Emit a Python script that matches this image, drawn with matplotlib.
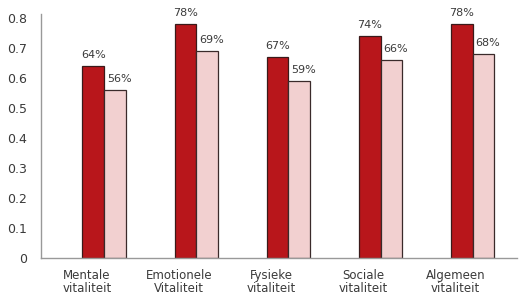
import matplotlib
matplotlib.use("Agg")
import matplotlib.pyplot as plt
import numpy as np

categories = ["Mentale\nvitaliteit", "Emotionele\nVitaliteit", "Fysieke\nvitaliteit", "Sociale\nvitaliteit", "Algemeen\nvitaliteit"]
series_a = [0.64, 0.78, 0.67, 0.74, 0.78]
series_b = [0.56, 0.69, 0.59, 0.66, 0.68]
labels_a = ["64%", "78%", "67%", "74%", "78%"]
labels_b = ["56%", "69%", "59%", "66%", "68%"]
yticks = [0, 0.1, 0.2, 0.3, 0.4, 0.5, 0.6, 0.7, 0.8]
ytick_labels = ["0", "0.1", "0.2", "0.3", "0.4", "0.5", "0.6", "0.7", "0.8"]

plt.rcParams['font.family'] = ['DejaVu Sans']
txt = '#3a3a3a'

fig = plt.figure(figsize=(5.19, 2.99), dpi=100)
ax = fig.add_axes([41/519, 1-258/299, (517-41)/519, (258-14)/299])

x = np.arange(len(categories))
w = 0.235
ax.bar(x - w/2, series_a, w, color='#B8161B', edgecolor='#3a1a1a', linewidth=0.9)
ax.bar(x + w/2, series_b, w, color='#F2D0D0', edgecolor='#3a2a2a', linewidth=0.9)

for i in range(len(categories)):
    ax.text(x[i] - w/2, series_a[i] + 0.02, labels_a[i], ha='center', va='bottom', fontsize=8, color=txt)
    ax.text(x[i] + w/2 + 0.045, series_b[i] + 0.02, labels_b[i], ha='center', va='bottom', fontsize=8, color=txt)

ax.set_xlim(-0.685, 4.48)
ax.set_ylim(0, 0.8135)
ax.set_yticks(yticks)
ax.set_yticklabels(ytick_labels, fontsize=9, color=txt)
ax.set_xticks(x - 0.185)
ax.set_xticklabels(categories, fontsize=8.5, color=txt, linespacing=1.0)
ax.tick_params(length=0)
ax.tick_params(axis='y', pad=10)
ax.tick_params(axis='x', pad=8)
for s in ['top', 'right']:
    ax.spines[s].set_visible(False)
for s in ['left', 'bottom']:
    ax.spines[s].set_color('#999999')
    ax.spines[s].set_linewidth(1.0)

fig.savefig("out.png", dpi=100)
